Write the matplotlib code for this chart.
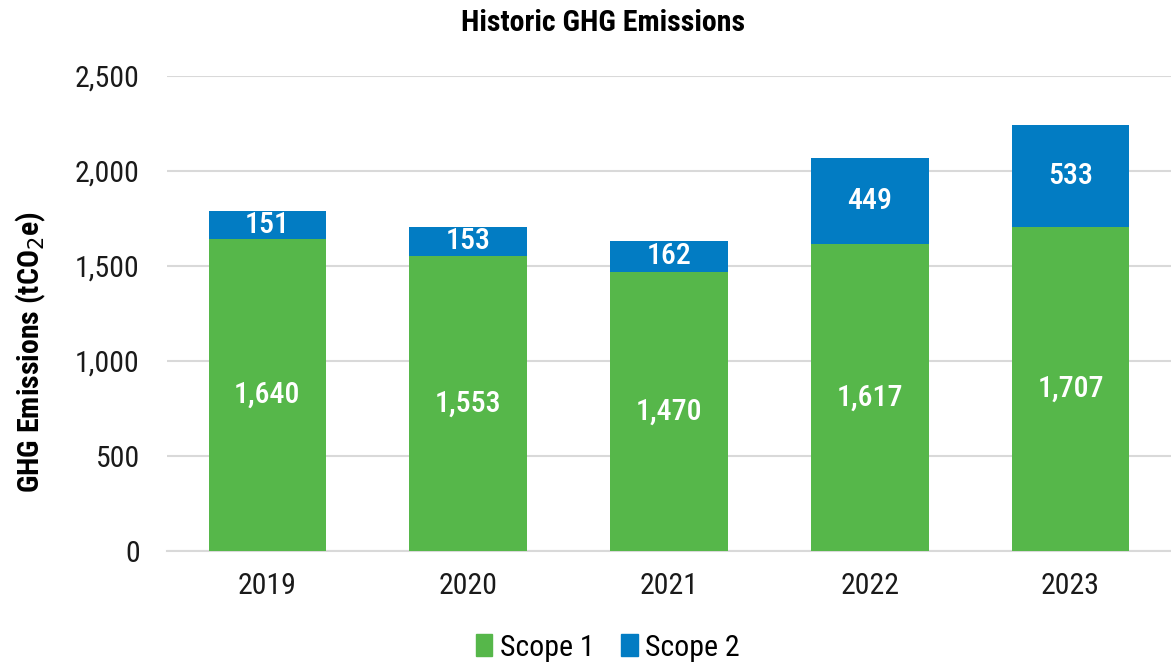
import matplotlib
matplotlib.use("Agg")
import matplotlib.pyplot as plt
import numpy as np
from matplotlib.ticker import FuncFormatter
from matplotlib.patches import Patch

years = ["2019", "2020", "2021", "2022", "2023"]
scope1 = [1640, 1553, 1470, 1617, 1707]
scope2 = [151, 153, 162, 449, 533]
yticks = [0, 500, 1000, 1500, 2000, 2500]

GREEN = "#56B74A"
BLUE = "#027CC3"

# the original uses a condensed face
plt.rcParams['font.family'] = ['Roboto Condensed', 'Roboto', 'DejaVu Sans']
FS = 21.5

fig = plt.figure(figsize=(11.71, 6.65), dpi=100)
ax = fig.add_axes([0.1425, 0.1714, 0.8575, 0.7143])

x = np.arange(len(years))
w = 0.585
b1 = ax.bar(x, scope1, w, color=GREEN, zorder=3)
b2 = ax.bar(x, scope2, w, bottom=scope1, color=BLUE, zorder=3)

for rect, v in zip(b1, scope1):
    ax.text(rect.get_x() + rect.get_width() / 2, v / 2, f"{v:,}",
            ha="center", va="center", color="white", fontsize=FS,
            fontweight="medium", zorder=4)
for rect, v, base in zip(b2, scope2, scope1):
    ax.text(rect.get_x() + rect.get_width() / 2, base + v / 2, f"{v:,}",
            ha="center", va="center", color="white", fontsize=FS,
            fontweight="medium", zorder=4)

ax.set_xlim(-0.5, len(years) - 0.5)
ax.set_ylim(0, 2500)
ax.set_yticks(yticks)
ax.yaxis.set_major_formatter(FuncFormatter(lambda v, p: f"{int(v):,}"))
ax.set_xticks(x)
ax.set_xticklabels(years)
ax.tick_params(axis="both", length=0, labelsize=FS, colors="#1a1a1a")
ax.tick_params(axis="y", pad=19.5)
ax.tick_params(axis="x", pad=15)
ax.grid(axis="y", color="#D9D9D9", linewidth=1.5, zorder=0)
for s in ["top", "right", "left"]:
    ax.spines[s].set_visible(False)
ax.spines["bottom"].set_color("#D9D9D9")
ax.spines["bottom"].set_linewidth(1.5)

fig.text(0.026, 0.47, "GHG Emissions (tCO$_2$e)", rotation=90, ha="center",
         va="center", fontsize=FS, fontweight="bold")
fig.text(0.515, 0.966, "Historic GHG Emissions", ha="center", va="center",
         fontsize=FS, fontweight="bold")

handles = [Patch(color=GREEN, label="Scope 1"), Patch(color=BLUE, label="Scope 2")]
fig.legend(handles=handles, loc="center", bbox_to_anchor=(0.519, 0.026), ncol=2,
           frameon=False, fontsize=FS, handlelength=0.55, handleheight=0.75,
           handletextpad=0.25, columnspacing=0.9)

fig.savefig("out.png", dpi=100)
